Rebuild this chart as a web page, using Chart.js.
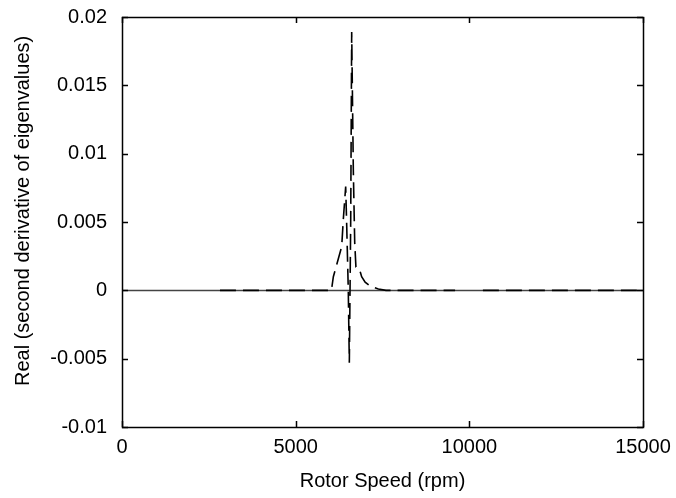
<!DOCTYPE html>
<html>
<head>
<meta charset="utf-8">
<script src="https://cdn.jsdelivr.net/npm/chart.js@4"></script>
<style>
  html, body { margin: 0; padding: 0; background: #fff; }
  #wrap { width: 676px; height: 498px; }
</style>
</head>
<body>
<div id="wrap"><canvas id="chart" width="676" height="498"></canvas></div>
<script>
// rotor speed (rpm) and real part of the second derivative of eigenvalues
const rpm = [2820, 5950, 6030, 6085, 6325, 6372, 6440, 6470, 6515, 6545, 6585, 6613,
  6660, 6700, 6735, 6830, 6900, 7000, 7150, 7380, 7600, 9590, 9990, 10390, 15000];
const realPart = [0, 0, 0, 0.0010, 0.0032, 0.0052, 0.0076, 0.0047, 0, -0.0053, 0.0052, 0.0189,
  0.0088, 0.0035, 0.0017, 0.0016, 0.0010, 0.0006, 0.0003, 0.0001, 0, 0, null, 0, 0];

const xTicks = [0, 5000, 10000, 15000];
const yTicks = [-0.01, -0.005, 0, 0.005, 0.01, 0.015, 0.02];

const points = rpm.map((x, i) => ({ x: x, y: realPart[i] }));

const FONT = { family: '"Liberation Sans", Arial, Helvetica, sans-serif', size: 20 };

// box round the plot, inward ticks on all four sides, and the zero axis
const framePlugin = {
  id: 'frame',
  beforeDatasetsDraw(chart) {
    const { ctx, chartArea: a, scales } = chart;
    const y0 = Math.round(scales.y.getPixelForValue(0)) + 0.5;
    ctx.save();
    ctx.strokeStyle = '#444';
    ctx.lineWidth = 1.5;
    ctx.beginPath();
    ctx.moveTo(a.left, y0);
    ctx.lineTo(a.right, y0);
    ctx.stroke();
    ctx.restore();
  },
  afterDraw(chart) {
    const { ctx, chartArea: a, scales } = chart;
    const tl = 6;
    ctx.save();
    ctx.strokeStyle = '#000';
    ctx.lineWidth = 1.5;
    ctx.strokeRect(Math.round(a.left) + 0.5, Math.round(a.top) + 0.5,
      Math.round(a.right - a.left), Math.round(a.bottom - a.top));
    ctx.beginPath();
    xTicks.forEach(v => {
      const px = Math.round(scales.x.getPixelForValue(v)) + 0.5;
      ctx.moveTo(px, a.bottom); ctx.lineTo(px, a.bottom - tl);
      ctx.moveTo(px, a.top); ctx.lineTo(px, a.top + tl);
    });
    yTicks.forEach(v => {
      const py = Math.round(scales.y.getPixelForValue(v)) + 0.5;
      ctx.moveTo(a.left, py); ctx.lineTo(a.left + tl, py);
      ctx.moveTo(a.right, py); ctx.lineTo(a.right - tl, py);
    });
    ctx.stroke();
    ctx.restore();
  }
};

new Chart(document.getElementById('chart'), {
  type: 'line',
  data: {
    datasets: [{
      data: points,
      borderColor: '#000',
      borderWidth: 1.6,
      borderDash: [16, 7],
      pointRadius: 0,
      tension: 0,
      fill: false
    }]
  },
  options: {
    responsive: false,
    animation: false,
    layout: { padding: { top: 17, right: 33, left: 0, bottom: 0 } },
    plugins: { legend: { display: false }, tooltip: { enabled: false } },
    scales: {
      x: {
        type: 'linear',
        min: 0,
        max: 15000,
        afterBuildTicks: s => { s.ticks = xTicks.map(v => ({ value: v })); },
        afterFit: s => { s.height = 71; s.paddingLeft = 0; s.paddingRight = 0; },
        grid: { display: false, drawTicks: false },
        border: { display: false },
        ticks: { color: '#000', font: FONT, padding: 8, maxRotation: 0,
          callback: v => String(v) },
        title: { display: true, text: 'Rotor Speed (rpm)', color: '#000', font: FONT,
          padding: { top: 0, bottom: 5 } }
      },
      y: {
        min: -0.01,
        max: 0.02,
        afterBuildTicks: s => { s.ticks = yTicks.map(v => ({ value: v })); },
        afterFit: s => { s.width = 122; s.paddingTop = 0; s.paddingBottom = 0; },
        grid: { display: false, drawTicks: false },
        border: { display: false },
        ticks: { color: '#000', font: FONT, padding: 15,
          callback: v => String(+v.toFixed(3)) },
        title: { display: true, text: '    Real (second derivative of eigenvalues)', color: '#000',
          font: FONT, padding: { top: 11, bottom: 0 } }
      }
    }
  },
  plugins: [framePlugin]
});
</script>
</body>
</html>
